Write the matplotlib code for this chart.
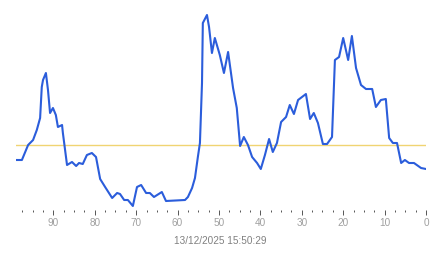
import matplotlib
matplotlib.use('Agg')
import matplotlib.pyplot as plt
from matplotlib.ticker import MultipleLocator

plt.rcParams['font.family'] = ['Liberation Sans', 'DejaVu Sans']

# seconds ago and the plotted value
seconds_ago = [98.8, 97.6, 96.1, 94.9, 94.0, 93.2, 92.8, 92.5, 91.8, 91.3,
               90.8, 90.1, 89.4, 88.9, 87.9, 87.7, 86.7, 85.5, 84.5, 83.8,
               82.9, 81.9, 80.7, 79.7, 78.7, 77.5, 75.8, 74.6, 73.9, 72.9,
               72.0, 70.8, 69.8, 68.8, 67.6, 66.7, 65.7, 63.8, 62.8, 58.2,
               57.5, 56.5, 55.8, 55.1, 54.6, 54.1, 53.9, 52.9, 52.4, 51.7,
               51.0, 49.8, 48.8, 47.8, 46.6, 45.7, 44.9, 44.0, 43.0, 42.0,
               40.8, 39.9, 38.9, 37.9, 37.0, 36.0, 35.0, 33.8, 32.9, 31.9,
               30.9, 29.0, 28.0, 27.1, 26.1, 24.9, 23.9, 22.7, 22.0, 21.0,
               20.0, 18.8, 17.9, 16.9, 15.7, 14.5, 13.0, 12.1, 10.9, 9.7,
               8.9, 8.0, 7.0, 6.0, 5.1, 4.1, 2.9, 1.2, 0.0]
values = [50, 50, 65, 70, 80, 92, 123, 130, 137, 120,
          97, 102, 95, 83, 85, 77, 45, 48, 44, 47,
          46, 55, 57, 53, 31, 23, 12, 17, 16, 10,
          10, 4, 23, 25, 17, 17, 13, 18, 9, 10,
          13, 22, 32, 53, 67, 127, 187, 195, 183, 157,
          172, 155, 137, 158, 122, 102, 64, 73, 65, 53,
          47, 41, 55, 71, 58, 67, 88, 93, 105, 96,
          110, 116, 91, 97, 87, 66, 66, 73, 150, 153,
          172, 150, 174, 142, 125, 121, 121, 103, 110, 111,
          72, 67, 67, 47, 50, 47, 47, 42, 41]
average = 65
timestamp = '13/12/2025 15:50:29'

fig = plt.figure(figsize=(4.43, 2.58), dpi=100)
ax = fig.add_axes([16.1 / 443, 48 / 258, 409.9 / 443, 210 / 258])

ax.axhline(average, color='#f0d472', lw=1.0, zorder=1)
ax.plot(seconds_ago, values, color='#2b5ddb', lw=1.5, zorder=2)

ax.set_xlim(99, 0)
ax.set_ylim(0, 210)

ax.xaxis.set_major_locator(MultipleLocator(10))
ax.xaxis.set_minor_locator(MultipleLocator(2.5))
ax.tick_params(axis='x', which='major', direction='out', length=3.6, width=0.7,
               color='#555555', labelcolor='#a0a0a0', labelsize=7.2, pad=2.5)
ax.tick_params(axis='x', which='minor', direction='out', length=1.4, width=0.7,
               color='#555555')
ax.yaxis.set_visible(False)
for s in ax.spines.values():
    s.set_visible(False)

fig.text(220 / 443, 1 - 241 / 258, timestamp, ha='center', va='center',
         fontsize=7.2, color='#808080')

fig.savefig('out.png', dpi=100)
